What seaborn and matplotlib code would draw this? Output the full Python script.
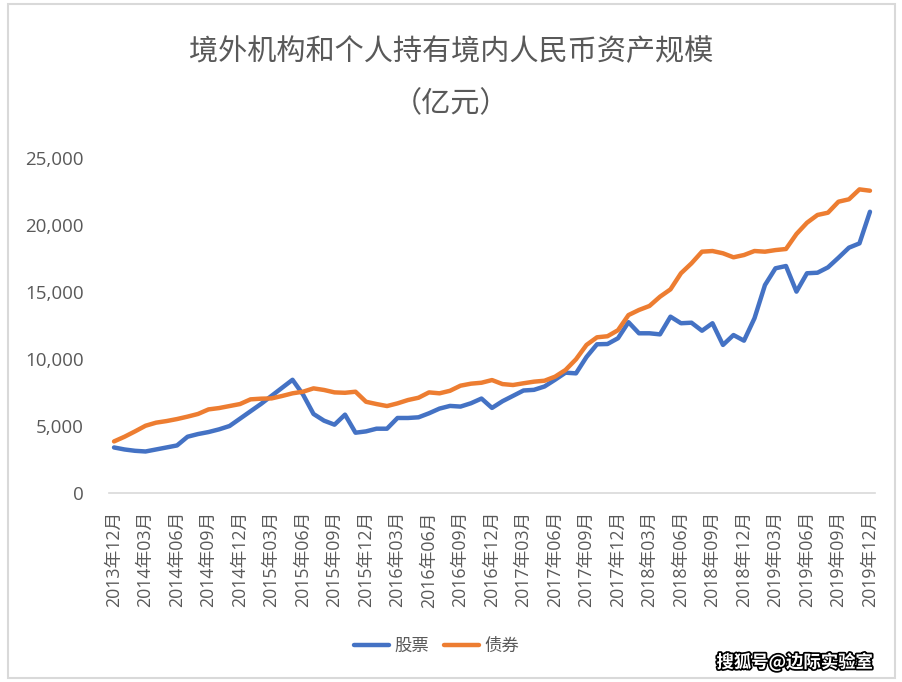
import pandas as pd
import matplotlib.pyplot as plt
import matplotlib.patheffects as pe
from matplotlib.patches import Rectangle
import seaborn as sns

# %%

sns.set_style('white')
plt.rcParams['font.family'] = ['Noto Sans CJK SC', 'DejaVu Sans']
num_font = ['Open Sans', 'Noto Sans CJK SC']

# %%

# monthly, 2013-12 .. 2019-12 (亿元)
months = [f'{y}年{m:02d}月' for y in range(2013, 2020) for m in range(1, 13)][11:]

stocks = [3400, 3250, 3150, 3100, 3250, 3400, 3550, 4200, 4400, 4550,
          4750, 5000, 5550, 6100, 6650, 7250, 7850, 8450, 7350, 5900,
          5400, 5100, 5850, 4500, 4600, 4800, 4800, 5600, 5600, 5650,
          5950, 6300, 6500, 6450, 6700, 7050, 6350, 6850, 7250, 7650,
          7700, 7950, 8450, 8980, 8930, 10150, 11100, 11120, 11550, 12750,
          11920, 11920, 11840, 13160, 12670, 12710, 12110, 12670, 11050, 11790,
          11370, 13040, 15520, 16770, 16940, 15030, 16400, 16440, 16840, 17560,
          18310, 18630, 20990]

bonds = [3850, 4200, 4600, 5020, 5250, 5370, 5520, 5700, 5900, 6240,
         6340, 6490, 6640, 6990, 7040, 7060, 7240, 7440, 7560, 7810,
         7690, 7510, 7480, 7560, 6810, 6640, 6490, 6690, 6940, 7110,
         7510, 7440, 7630, 8010, 8160, 8230, 8430, 8130, 8060, 8190,
         8310, 8380, 8680, 9180, 9980, 11050, 11620, 11700, 12150, 13280,
         13660, 13960, 14650, 15200, 16400, 17140, 18010, 18060, 17890, 17590,
         17760, 18060, 18010, 18130, 18210, 19330, 20170, 20750, 20920, 21740,
         21920, 22660, 22560]

series_names = ['股票', '债券']
colors = ['#4472C4', '#ED7D31']

# %%

df = pd.DataFrame({'idx': range(len(months)), '股票': stocks, '债券': bonds})
long = df.melt(id_vars='idx', var_name='类别', value_name='规模')

# %%

fig = plt.figure(figsize=(9.02, 6.82), dpi=100)
ax = fig.add_axes([0.1206, 0.2771, 0.8497, 0.4912])

sns.lineplot(data=long, x='idx', y='规模', hue='类别',
             hue_order=series_names, palette=colors,
             linewidth=3.2, ax=ax, legend=False)

ax.set_xlim(-0.5, len(months) - 0.5)
ax.set_ylim(0, 25000)
ax.set_yticks(range(0, 25001, 5000))
ax.set_yticklabels([f'{v:,}' for v in range(0, 25001, 5000)],
                   fontsize=13.5, color='#595959', family=num_font)
ticks = list(range(0, len(months), 3))
ax.set_xticks(ticks)
ax.set_xticklabels([months[i] for i in ticks], rotation=90,
                   fontsize=12.8, color='#595959', family=num_font)
ax.tick_params(axis='both', length=0)
ax.tick_params(axis='x', pad=13)
ax.tick_params(axis='y', pad=18)
ax.set_xlabel('')
ax.set_ylabel('')
sns.despine(ax=ax, left=True, top=True, right=True, bottom=False)
ax.spines['bottom'].set_color('#d9d9d9')
ax.spines['bottom'].set_linewidth(1.2)

fig.text(0.5, 1 - 52 / 682, '境外机构和个人持有境内人民币资产规模',
         ha='center', va='center', fontsize=21, color='#595959')
fig.text(0.5, 1 - 104 / 682, '（亿元）',
         ha='center', va='center', fontsize=21, color='#595959')

# legend
handles = [plt.Line2D([], [], color=c, linewidth=3.2, solid_capstyle='round')
           for c in colors]
fig.legend(handles, series_names, loc='center', bbox_to_anchor=(0.484, 1 - 646 / 682),
           ncol=2, frameon=False, fontsize=12.5, labelcolor='#595959',
           handlelength=2.0, handletextpad=0.3, columnspacing=0.9)

# watermark
fig.text(873 / 902, 1 - 662 / 682, '搜狐号@边际实验室', ha='right', va='center',
         fontsize=12.5, color='white', fontweight='bold',
         path_effects=[pe.withStroke(linewidth=2.5, foreground='black')])

# chart frame
fig.patches.append(Rectangle((8 / 902, 4 / 682), 887 / 902, 674 / 682,
                             transform=fig.transFigure, fill=False,
                             edgecolor='#d9d9d9', linewidth=1.5))

plt.savefig('out.png', dpi=100)
